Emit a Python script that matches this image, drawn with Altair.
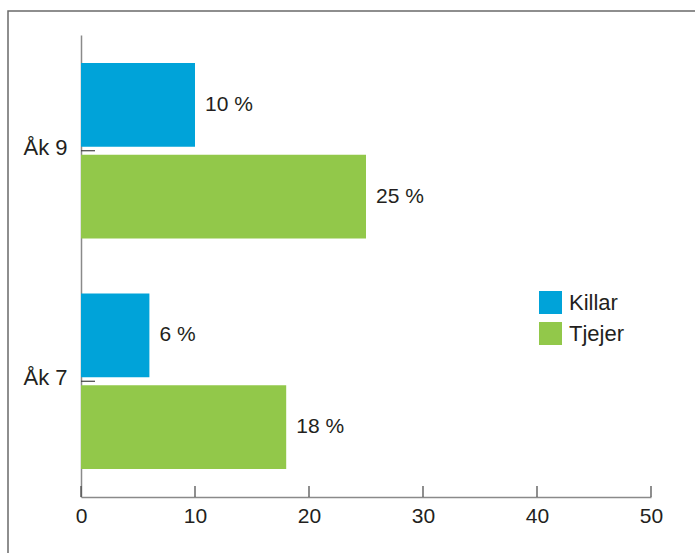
import altair as alt
import pandas as pd

# Share of pupils, per school year and gender (percent)
groups = ["Åk 9", "Åk 9", "Åk 7", "Åk 7"]
genders = ["Killar", "Tjejer", "Killar", "Tjejer"]
shares = [10, 25, 6, 18]

group_order = ["Åk 9", "Åk 7"]
gender_order = ["Killar", "Tjejer"]
gender_colors = ["#00a3d9", "#92c84a"]
x_ticks = [0, 10, 20, 30, 40, 50]

FONT = "Liberation Sans"
TXT = "#231f20"
W, H = 570, 462

df = pd.DataFrame({"grupp": groups, "kon": genders, "andel": shares})
df["etikett"] = [f"{v} %" for v in shares]

x_scale = alt.Scale(domain=[0, 50], nice=False, zero=True)
y_scale = alt.Scale(domain=group_order, paddingInner=0.238, paddingOuter=0.121)
off_scale = alt.Scale(domain=gender_order, paddingInner=0.087, paddingOuter=0)

x_axis = alt.Axis(
    values=x_ticks,
    ticks=False,
    tickSize=0,
    grid=False,
    labelFlush=False,
    labelPadding=8,
    labelFontSize=21,
    labelFont=FONT,
    labelColor=TXT,
    domainColor="#8a8a8a",
    domainWidth=1.5,
)
y_axis = alt.Axis(
    ticks=False,
    tickSize=0,
    grid=False,
    labelPadding=14,
    labelFontSize=22,
    labelFont=FONT,
    labelColor=TXT,
    labelOffset=-3,
    domainColor="#8a8a8a",
    domainWidth=1.5,
)

y_enc = alt.Y("grupp:N", scale=y_scale, sort=group_order, title=None, axis=y_axis)
off_enc = alt.YOffset("kon:N", scale=off_scale, sort=gender_order)

bars = alt.Chart(df).mark_bar().encode(
    x=alt.X("andel:Q", scale=x_scale, title=None, axis=x_axis),
    y=y_enc,
    yOffset=off_enc,
    color=alt.Color(
        "kon:N",
        scale=alt.Scale(domain=gender_order, range=gender_colors),
        legend=alt.Legend(
            title=None,
            orient="none",
            legendX=458,
            legendY=256,
            symbolType="square",
            symbolSize=529,
            symbolStrokeWidth=0,
            labelFontSize=22,
            labelFont=FONT,
            labelColor=TXT,
            labelOffset=7,
            rowPadding=8,
            padding=0,
        ),
    ),
)

labels = alt.Chart(df).mark_text(
    align="left", baseline="middle", dx=10, fontSize=21, font=FONT, color=TXT
).encode(
    x=alt.X("andel:Q", scale=x_scale, title=None, axis=x_axis),
    y=y_enc,
    yOffset=off_enc,
    text="etikett:N",
)

# Inward tick marks on both axes
y_tick_df = pd.DataFrame({"grupp": group_order})
y_ticks = alt.Chart(y_tick_df).mark_rule(color="#444", strokeWidth=1.2).encode(
    y=y_enc,
    x=alt.value(0),
    x2=alt.value(14),
)

x_tick_df = pd.DataFrame({"andel": x_ticks})
x_tick_marks = alt.Chart(x_tick_df).mark_rule(color="#444", strokeWidth=1.2).encode(
    x=alt.X("andel:Q", scale=x_scale, title=None, axis=x_axis),
    y=alt.value(H - 11),
    y2=alt.value(H),
)

# Outer frame
frame = alt.Chart(pd.DataFrame({"f": [0]})).mark_rect(
    fillOpacity=0, stroke="#6a6a6a", strokeWidth=1.5
).encode(
    x=alt.value(-73),
    x2=alt.value(W + 60),
    y=alt.value(-24),
    y2=alt.value(H + 80),
)

chart = (
    alt.layer(frame, bars, labels, y_ticks, x_tick_marks)
    .properties(
        width=W,
        height=H,
        padding={"left": 81, "top": 35, "right": 44, "bottom": 56},
        autosize=alt.AutoSizeParams(type="none"),
        background="white",
    )
    .configure_view(stroke="transparent")
)

chart.save("out.html", embed_options={"renderer": "svg", "actions": False})
